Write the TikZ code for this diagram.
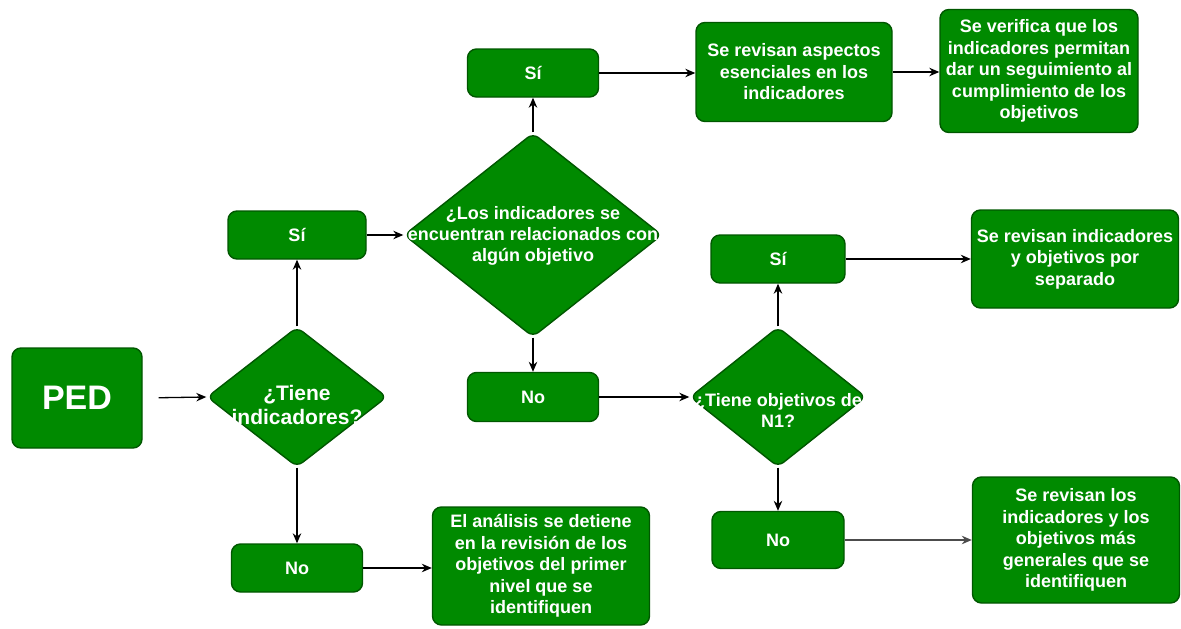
\documentclass[tikz,border=0pt]{standalone}
\usepackage{fontspec}
\setmainfont{Liberation Sans}
\usetikzlibrary{shapes.geometric,arrows.meta}
\definecolor{gfill}{HTML}{008A00}
\definecolor{gdraw}{HTML}{005700}
\begin{document}
\begin{tikzpicture}[x=1pt,y=-1pt,
  box/.style={draw=gdraw, fill=gfill, line width=1.4pt, rounded corners=9pt, text=white,
    font=\fontsize{18}{21.5}\selectfont\bfseries, align=center, inner sep=0pt},
  dia/.style={draw=gdraw, fill=gfill, line width=1.4pt, diamond, rounded corners=7pt, inner sep=0pt},
  lbl/.style={text=white, font=\fontsize{18}{21}\selectfont\bfseries, align=center, inner sep=0pt},
  arr/.style={-{Stealth[length=10pt,width=8.5pt]}, line width=1.3pt}]
\useasboundingbox (0,0) rectangle (1181,629);
% boxes
\node[box, minimum width=130, minimum height=100, font=\fontsize{34}{40}\selectfont\bfseries] (ped) at (77,398) {PED};
\node[dia, minimum width=180, minimum height=140] (d1) at (297,397) {};
\node[lbl, font=\fontsize{21}{24}\selectfont\bfseries] (t1) at (297,405) {¿Tiene\\indicadores?};
\node[box, minimum width=138, minimum height=48] (si1) at (297,235) {Sí};
\node[dia, minimum width=258, minimum height=204] (d2) at (533,235) {};
\node[lbl] (t2) at (533,236) {¿Los indicadores se\\encuentran relacionados con\\algún objetivo};
\node[box, minimum width=131, minimum height=48] (si2) at (533,73) {Sí};
\node[box, minimum width=196, minimum height=99] (rev1) at (794,72) {Se revisan aspectos\\esenciales en los\\indicadores};
\node[box, minimum width=198, minimum height=123] (ver) at (1039,71) {Se verifica que los\\indicadores permitan\\dar un seguimiento al\\cumplimiento de los\\objetivos};
\node[box, minimum width=131, minimum height=49] (no2) at (533,397) {No};
\node[dia, minimum width=176, minimum height=140] (d3) at (778,397) {};
\node[lbl] (t3) at (778,410) {¿Tiene objetivos de\\N1?};
\node[box, minimum width=134, minimum height=48] (si3) at (778,259) {Sí};
\node[box, minimum width=207, minimum height=98] (rev2) at (1075,259) {Se revisan indicadores\\y objetivos por\\separado};
\node[box, minimum width=132, minimum height=57] (no3) at (778,540) {No};
\node[box, minimum width=207, minimum height=126] (rev3) at (1076,540) {Se revisan los\\indicadores y los\\objetivos más\\generales que se\\identifiquen};
\node[box, minimum width=131, minimum height=48] (no1) at (297,568) {No};
\node[box, minimum width=217, minimum height=118] (stop) at (541,566) {El análisis se detiene\\en la revisión de los\\objetivos del primer\\nivel que se\\identifiquen};
% connectors
\draw[arr, shorten <=16pt] (ped.east) -- (d1.west);
\draw[arr] (d1.north) -- (si1.south);
\draw[arr] (d1.south) -- (no1.north);
\draw[arr] (si1.east) -- (si1.east -| d2.west);
\draw[arr] (d2.north) -- (si2.south);
\draw[arr] (d2.south) -- (no2.north);
\draw[arr] (si2.east) -- (si2.east -| rev1.west);
\draw[arr] (rev1.east) -- (rev1.east -| ver.west);
\draw[arr] (no2.east) -- (d3.west);
\draw[arr] (d3.north) -- (si3.south);
\draw[arr] (d3.south) -- (no3.north);
\draw[arr] (si3.east) -- (si3.east -| rev2.west);
\draw[arr, draw=black!70] (no3.east) -- (no3.east -| rev3.west);
\draw[arr] (no1.east) -- (no1.east -| stop.west);
\end{tikzpicture}
\end{document}
